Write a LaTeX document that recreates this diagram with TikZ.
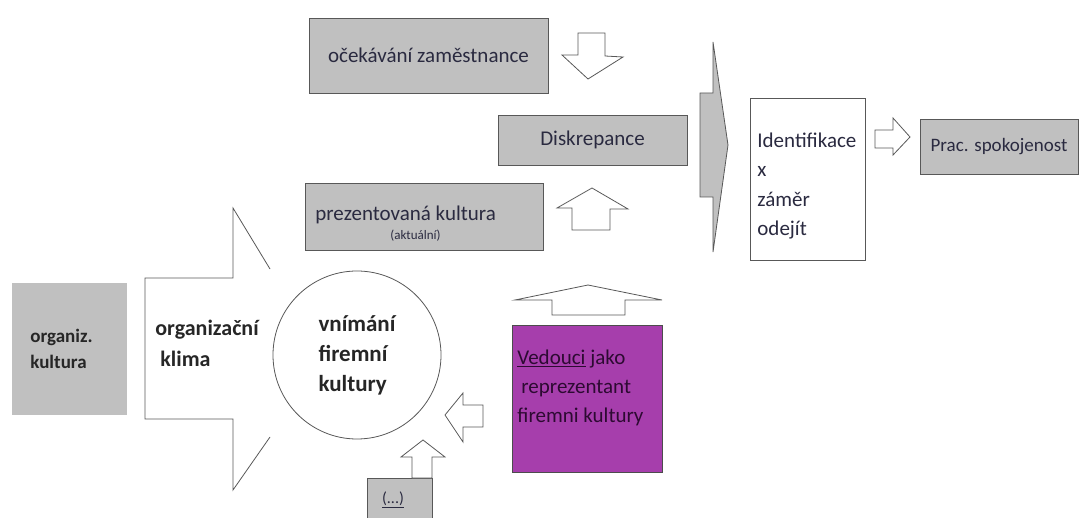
\documentclass[tikz,border=0pt]{standalone}
\usepackage{fontspec}
\setmainfont{Carlito}
\definecolor{boxgray}{RGB}{192,192,192}
\definecolor{lineg}{RGB}{88,88,88}
\definecolor{vedpurple}{RGB}{166,62,172}
\definecolor{txtnavy}{RGB}{42,42,64}
\def\txtsize{\fontsize{21}{29.5}\selectfont}
\def\boldsize{\fontsize{22}{31}\selectfont\bfseries}

\begin{document}
\begin{tikzpicture}[x=1pt,y=-1pt,line width=0.8pt,draw=lineg]
    \tikzstyle{graybox}=[rectangle,draw=lineg,fill=boxgray,inner sep=0pt]
    \tikzstyle{txt}=[inner sep=0pt,text=txtnavy,font=\txtsize,align=left]
    \tikzstyle{boldtxt}=[inner sep=0pt,text=black!85,font=\boldsize,align=left]
    \tikzstyle{blockarrow}=[draw=lineg,fill=white,line join=miter]

    \useasboundingbox (0,0) rectangle (1079,518);

    \node[graybox,minimum width=115pt,minimum height=132pt,draw=none] (orgbox) at (69.5,349) {};
    \node[boldtxt,font=\fontsize{19}{26}\selectfont\bfseries,anchor=north west] (orgkult) at (30,329) {organiz.\\kultura};

    \draw[blockarrow,fill=none] (270,269) -- (233,208) -- (233,278) -- (145,278) -- (145,419)
        -- (233,419) -- (233,490) -- (270,437);
    \node[boldtxt,anchor=north west] (klima) at (155,320) {organizační\\\hspace*{5pt}klima};

    \node[circle,draw=lineg,fill=white,minimum size=168pt,boldtxt,font=\fontsize{23}{30}\selectfont\bfseries] (vnim) at (357,355) {vnímání\\firemní\\kultury};

    \node[graybox,minimum width=65pt,minimum height=47pt] (etc) at (399.5,501.5) {};
    \node[txt,font=\fontsize{16}{18}\selectfont] (etct) at (393,500) {\underline{(...)}};
    \draw[blockarrow] (412,478) -- (412,457) -- (401,457) -- (423,440) -- (445,457) -- (432,457) -- (432,478) -- cycle;

    \node[rectangle,draw=black!70,fill=vedpurple,minimum width=150pt,minimum height=147pt] (vedbox) at (587,398.5) {};
    \node[txt,text={rgb,255:red,45;green,10;blue,50},font=\fontsize{21}{29}\selectfont,anchor=north west] (ved) at (517,350)
        {\underline{Vedouci} jako\\\hspace*{4pt}reprezentant\\firemni kultury};
    \draw[blockarrow] (483,405) -- (463,405) -- (463,393) -- (445,415) -- (463,442) -- (463,427) -- (483,427) -- cycle;
    \draw[blockarrow] (552,315) -- (552,300) -- (515,300) -- (588,285) -- (662,300) -- (625,300) -- (625,315) -- cycle;

    \node[graybox,minimum width=238pt,minimum height=67pt] (prez) at (424,216.5) {};
    \node[txt,anchor=base west] (prezt) at (315,221) {prezentovaná kultura};
    \node[txt,font=\fontsize{13}{15}\selectfont,anchor=base west] (prezsub) at (390,240) {(aktuální)};
    \draw[blockarrow] (572,230) -- (572,208) -- (557,208) -- (592,188) -- (628,209) -- (610,209) -- (610,230) -- cycle;

    \node[graybox,txt,minimum width=239pt,minimum height=75pt] (ocek) at (428.5,55.5) {očekávání zaměstnance};
    \draw[blockarrow] (578,33) -- (605,33) -- (605,56) -- (623,57) -- (588,79) -- (562,55) -- (578,55) -- cycle;

    \node[graybox,txt,minimum width=189pt,minimum height=50pt] (disk) at (592.5,140) {Diskrepance};

    \draw[draw=lineg,fill=boxgray,line join=miter] (700,93) -- (713,93) -- (713,42) -- (728,145) -- (713,252)
        -- (713,197) -- (700,197) -- cycle;

    \node[rectangle,draw=lineg,fill=white,minimum width=115pt,minimum height=162pt] (identbox) at (807.5,179) {};
    \node[txt,anchor=north west] (ident) at (757,132.5) {Identifikace\\x\\záměr\\odejít};
    \draw[blockarrow] (875,130) -- (893,130) -- (893,118) -- (910,137) -- (893,155) -- (893,148) -- (875,148) -- cycle;

    \node[graybox,txt,font=\fontsize{19}{24}\selectfont,minimum width=158pt,minimum height=55pt] (prac) at (999,146.5) {Prac. spokojenost};
\end{tikzpicture}
\end{document}
